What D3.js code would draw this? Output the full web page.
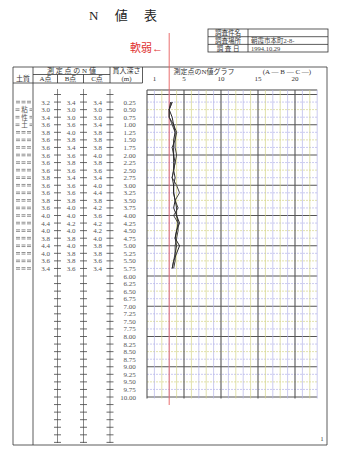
<!DOCTYPE html>
<html><head><meta charset="utf-8">
<script src="https://cdn.jsdelivr.net/npm/d3@7"></script>
<style>
body{margin:0;background:#fff;}
svg text{font-family:"Liberation Serif","Noto Sans CJK JP",serif;}
</style></head>
<body><svg id="c" width="340" height="450"></svg>
<script>
// ---- data ----
const depths = [0.25,0.50,0.75,1.00,1.25,1.50,1.75,2.00,2.25,2.50,2.75,3.00,3.25,3.50,3.75,4.00,4.25,4.50,4.75,5.00,5.25,5.50,5.75,
  6.00,6.25,6.50,6.75,7.00,7.25,7.50,7.75,8.00,8.25,8.50,8.75,9.00,9.25,9.50,9.75,10.00];
const depthLabels = ["0.25","0.50","0.75","1.00","1.25","1.50","1.75","2.00","2.25","2.50","2.75","3.00","3.25","3.50","3.75","4.00","4.25","4.50","4.75","5.00","5.25","5.50","5.75",
  "6.00","6.25","6.50","6.75","7.00","7.25","7.50","7.75","8.00","8.25","8.50","8.75","9.00","9.25","9.50","9.75","10.00"];
const nA = [3.2,3.0,3.4,3.6,3.8,3.6,3.6,3.6,3.6,3.6,3.8,3.6,3.6,3.8,3.6,4.0,4.4,4.0,3.8,4.4,4.0,3.6,3.4];
const nB = [3.4,3.0,3.0,3.6,4.0,3.8,3.4,3.6,3.8,3.6,3.4,3.6,3.6,3.8,4.0,4.0,4.2,4.0,3.8,4.0,3.8,3.8,3.6];
const nC = [3.4,3.0,3.0,3.4,3.8,3.8,3.8,4.0,3.8,3.6,3.4,4.0,4.4,3.8,4.2,3.6,4.2,4.2,4.0,3.8,3.8,3.6,3.4];
const soilChars = {1:"粘",2:"性",3:"土"};
const xTicks = [1,5,10,15,20];
const infoLabels = ["調査件名","調査場所","調 査 日"];
const infoValues = ["","朝霞市本町2-8-","1994.10.29"];
const softLimit = 3;

// ---- drawing ----
const svg = d3.select("#c");
const y = d3.scaleLinear().domain([0,10]).range([94.5,397]);
const x = d3.scaleLinear().domain([0,23]).range([147,317.2]);
const ink = "#333", txt = "#555";

// title
svg.append("text").attr("x",123).attr("y",20).attr("text-anchor","middle")
  .attr("font-size",13).attr("fill","#222").attr("xml:space","preserve").text("N　 値　 表");

// info table
const it = svg.append("g");
const ix0=208, ix1=248, ix2=328, iy=[29,36.7,44.4,52];
it.append("rect").attr("x",ix0).attr("y",iy[0]).attr("width",ix2-ix0).attr("height",iy[3]-iy[0]).attr("fill","none").attr("stroke",ink).attr("stroke-width",0.8);
it.append("line").attr("x1",ix1).attr("x2",ix1).attr("y1",iy[0]).attr("y2",iy[3]).attr("stroke",ink).attr("stroke-width",0.8);
[1,2].forEach(i=>it.append("line").attr("x1",ix0).attr("x2",ix2).attr("y1",iy[i]).attr("y2",iy[i]).attr("stroke",ink).attr("stroke-width",0.8));
infoLabels.forEach((t,i)=>it.append("text").attr("x",(ix0+ix1)/2).attr("y",(iy[i]+iy[i+1])/2+2.5).attr("text-anchor","middle").attr("font-size",6.5).attr("fill","#333").attr("xml:space","preserve").text(t));
infoValues.forEach((t,i)=>it.append("text").attr("x",ix1+3).attr("y",(iy[i]+iy[i+1])/2+2.5).attr("font-size",6.5).attr("fill","#444").text(t));

// 軟弱 label
svg.append("text").attr("x",130).attr("y",52).attr("font-size",11).attr("fill","#e03030").text("軟弱←");

// main table frame
const L=13, R=327, T=67, B=445;
const colX=[33,57.5,83.5,110,142.5];
const fr = svg.append("g").attr("stroke",ink).attr("stroke-width",0.8).attr("fill","none");
fr.append("line").attr("x1",L).attr("x2",R).attr("y1",T).attr("y2",T);
fr.append("line").attr("x1",L).attr("x2",R).attr("y1",B).attr("y2",B);
fr.append("line").attr("x1",L).attr("x2",L).attr("y1",T).attr("y2",B);
fr.append("line").attr("x1",R).attr("x2",R).attr("y1",T).attr("y2",B);
fr.append("line").attr("x1",colX[0]).attr("x2",colX[0]).attr("y1",T).attr("y2",B);
fr.append("line").attr("x1",colX[3]).attr("x2",colX[3]).attr("y1",T).attr("y2",83);
fr.append("line").attr("x1",colX[4]).attr("x2",colX[4]).attr("y1",T).attr("y2",83);
fr.append("line").attr("x1",colX[0]).attr("x2",colX[3]).attr("y1",74.5).attr("y2",74.5);
fr.append("line").attr("x1",colX[1]).attr("x2",colX[1]).attr("y1",74.5).attr("y2",83);
fr.append("line").attr("x1",colX[2]).attr("x2",colX[2]).attr("y1",74.5).attr("y2",83);
fr.append("line").attr("x1",L).attr("x2",colX[4]).attr("y1",83).attr("y2",83);

// header texts
const ht = (t,xx,yy,fs=7,anchor="middle")=>svg.append("text").attr("x",xx).attr("y",yy).attr("text-anchor",anchor).attr("font-size",fs).attr("fill","#333").attr("xml:space","preserve").text(t);
ht("測 定 点 の N 値",71.5,72.5);
ht("貫入深さ",126.5,72.5);
ht("土質",23,81);
ht("A点",45.5,81);
ht("B点",70.5,81);
ht("C点",97,81);
ht("(m)",126.5,81);
ht("測定点のN値グラフ",204,74);
ht("(A ― B ― C ―)",287,74);
xTicks.forEach(v=>ht(String(v),x(v),81,7));
ht("1",322,441,6);

// cross columns
const crossDepths = d3.range(0,11.51,0.25);
[colX[1],colX[2],colX[3]].forEach(cx=>{
  svg.append("line").attr("x1",cx).attr("x2",cx).attr("y1",89).attr("y2",B-2).attr("stroke","#555").attr("stroke-width",0.7);
  svg.selectAll(null).data(crossDepths).enter().append("line")
    .attr("x1",cx-3.5).attr("x2",cx+3.5).attr("y1",d=>y(d)).attr("y2",d=>y(d))
    .attr("stroke","#444").attr("stroke-width",0.8);
});

// values
const valG = svg.append("g").attr("font-size",7).attr("fill",txt).attr("text-anchor","middle");
[[nA,45.5],[nB,71],[nC,97.5]].forEach(([arr,cx])=>{
  valG.selectAll(null).data(arr).enter().append("text")
    .attr("x",cx).attr("y",(d,i)=>y(depths[i])+2.5).text(d=>d.toFixed(1));
});
valG.selectAll(null).data(depthLabels).enter().append("text")
  .attr("x",d=>d.length>4?128:129.5).attr("y",(d,i)=>y(depths[i])+2.5).text(d=>d);

// soil column symbols
const sg = svg.append("g");
nA.forEach((_,i)=>{
  const cy=y(depths[i]);
  const segs = soilChars[i] ? [[15.5,19.5],[29.5,32]] : [[16,20],[21.5,25.5],[27,31]];
  segs.forEach(([a,b])=>{
    [-0.8,0.8].forEach(o=>sg.append("line").attr("x1",a).attr("x2",b).attr("y1",cy+o).attr("y2",cy+o).attr("stroke","#777").attr("stroke-width",0.8));
  });
  if(soilChars[i]) sg.append("text").attr("x",24.5).attr("y",cy+2.5).attr("text-anchor","middle").attr("font-size",6.5).attr("fill","#555").text(soilChars[i]);
});

// grid
const gy0=90, gy1=y(10)+1.5;
const g = svg.append("g");
const hDepths = d3.range(0,10.01,0.25);
hDepths.forEach((d,i)=>{
  const major = Math.abs(d-Math.round(d))<1e-6;
  g.append("line").attr("x1",x(0)).attr("x2",x(23)).attr("y1",y(d)).attr("y2",y(d))
    .attr("stroke", major?"#555":(i%2?"#b4b4ea":"#d4d488"))
    .attr("stroke-width", major?1:0.7)
    .attr("stroke-dasharray", major?null:"2,1");
});
g.append("line").attr("x1",x(0)).attr("x2",x(23)).attr("y1",gy0).attr("y2",gy0).attr("stroke","#444").attr("stroke-width",1.1);
d3.range(0,24).forEach(n=>{
  const major = n%5===0;
  g.append("line").attr("x1",x(n)).attr("x2",x(n)).attr("y1",gy0).attr("y2",gy1)
    .attr("stroke", major?"#555":(n%2?"#b4b4ea":"#d4d488"))
    .attr("stroke-width", major?1.1:0.7);
});
svg.append("line").attr("x1",x(softLimit)).attr("x2",x(softLimit)).attr("y1",33).attr("y2",405)
  .attr("stroke","#e86060").attr("stroke-width",0.9);

// profile lines
const line = d3.line().x(d=>x(d[0])).y(d=>y(d[1]));
[[nA,"#111"],[nB,"#222"],[nC,"#333"]].forEach(([arr,col])=>{
  svg.append("path").datum(arr.map((v,i)=>[v,depths[i]])).attr("d",line)
    .attr("fill","none").attr("stroke",col).attr("stroke-width",0.9);
});
</script></body></html>
